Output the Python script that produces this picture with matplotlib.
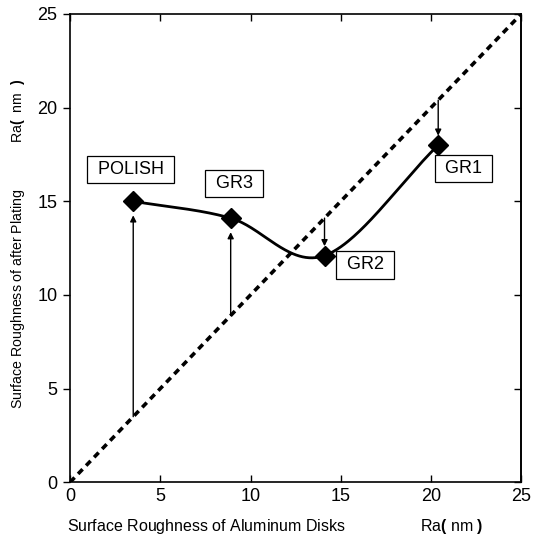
import numpy as np
import matplotlib
matplotlib.use("Agg")
import matplotlib.pyplot as plt

# ---- data ----
categories = ["POLISH", "GR3", "GR2", "GR1"]
ra_disk = [3.5, 8.9, 14.1, 20.4]          # Ra of aluminium disks (nm)
ra_plated = [15.0, 14.1, 12.1, 18.0]      # Ra after plating (nm)
diag = [0, 25]
xticks = [0, 5, 10, 15, 20, 25]
yticks = [0, 5, 10, 15, 20, 25]

# ---- layout (label box centres in data units) ----
label_pos = {"POLISH": (3.35, 16.7), "GR3": (9.1, 15.95),
             "GR2": (16.35, 11.6), "GR1": (21.8, 16.75)}

plt.rcParams['font.family'] = ['Liberation Sans', 'Noto Sans CJK JP', 'DejaVu Sans']
plt.rcParams['mathtext.fontset'] = 'custom'
plt.rcParams['mathtext.rm'] = 'Liberation Sans'
plt.rcParams['mathtext.bf'] = 'Liberation Sans:bold'


def smooth_curve(x, y, npts=60):
    """Smoothed line: cubic Bezier segments with Catmull-Rom tangents."""
    P = np.column_stack([x, y]).astype(float)
    n = len(P)
    t = np.linspace(0, 1, npts)[:, None]
    out = []
    for i in range(n - 1):
        p0, p3 = P[i], P[i + 1]
        c1 = p0 + ((P[i + 1] - P[i - 1]) / 6.0 if i > 0 else (P[1] - P[0]) / 3.0)
        c2 = p3 - ((P[i + 2] - P[i]) / 6.0 if i + 2 < n else (P[-1] - P[-2]) / 3.0)
        seg = ((1 - t) ** 3) * p0 + 3 * ((1 - t) ** 2) * t * c1 + 3 * (1 - t) * t ** 2 * c2 + t ** 3 * p3
        out.append(seg if i == 0 else seg[1:])
    out = np.vstack(out)
    return out[:, 0], out[:, 1]


fig = plt.figure(figsize=(5.39, 5.37), dpi=100)
ax = fig.add_axes([0.130, 0.102, 0.837, 0.872])

ax.plot(diag, diag, color='black', lw=2.6, linestyle=(0, (1.8, 1.4)), zorder=2)

cx, cy = smooth_curve(ra_disk, ra_plated)
ax.plot(cx, cy, color='black', lw=2.0, zorder=3)
ax.plot(ra_disk, ra_plated, linestyle='none', marker='D', markersize=10,
        color='black', zorder=4)

for xd, yp in zip(ra_disk, ra_plated):
    tip = yp - 0.75 if yp > xd else yp + 0.5
    ax.annotate('', xy=(xd, tip), xytext=(xd, xd),
                arrowprops=dict(arrowstyle='-|>', color='black', lw=1.0,
                                mutation_scale=9, shrinkA=0, shrinkB=0),
                zorder=3)

for name in categories:
    px, py = label_pos[name]
    ax.text(px, py, ' ' + name + ' ', ha='center', va='center', fontsize=13,
            bbox=dict(boxstyle='square,pad=0.3', fc='white', ec='black', lw=0.9),
            zorder=5)

ax.set_xlim(0, 25)
ax.set_ylim(0, 25)
ax.set_xticks(xticks)
ax.set_yticks(yticks)
ax.tick_params(axis='both', labelsize=13, width=1.0, length=5)
ax.tick_params(axis='x', direction='in', top=True, pad=4)
ax.tick_params(axis='y', direction='out', pad=4, right=False)
secy = ax.secondary_yaxis('right')
secy.set_yticks(yticks)
secy.tick_params(direction='in', length=5, width=1.0, labelright=False)
for s in ax.spines.values():
    s.set_linewidth(1.2)
secy.spines['right'].set_linewidth(1.2)

unit = r'Ra$\mathbf{(}$ nm $\mathbf{)}$'
ax.set_xlabel('Surface Roughness of Aluminum Disks' + ' ' * 17 + unit, fontsize=11.5)
ax.xaxis.set_label_coords(0.455, -0.075)
ylab_unit = r'Ra$\mathbf{(}$  nm  $\mathbf{)}$'
ax.set_ylabel('Surface Roughness of after Plating' + ' ' * 12 + ylab_unit, fontsize=10.2)
ax.yaxis.set_label_coords(-0.095, 0.51)

fig.savefig('out.png', dpi=100)
